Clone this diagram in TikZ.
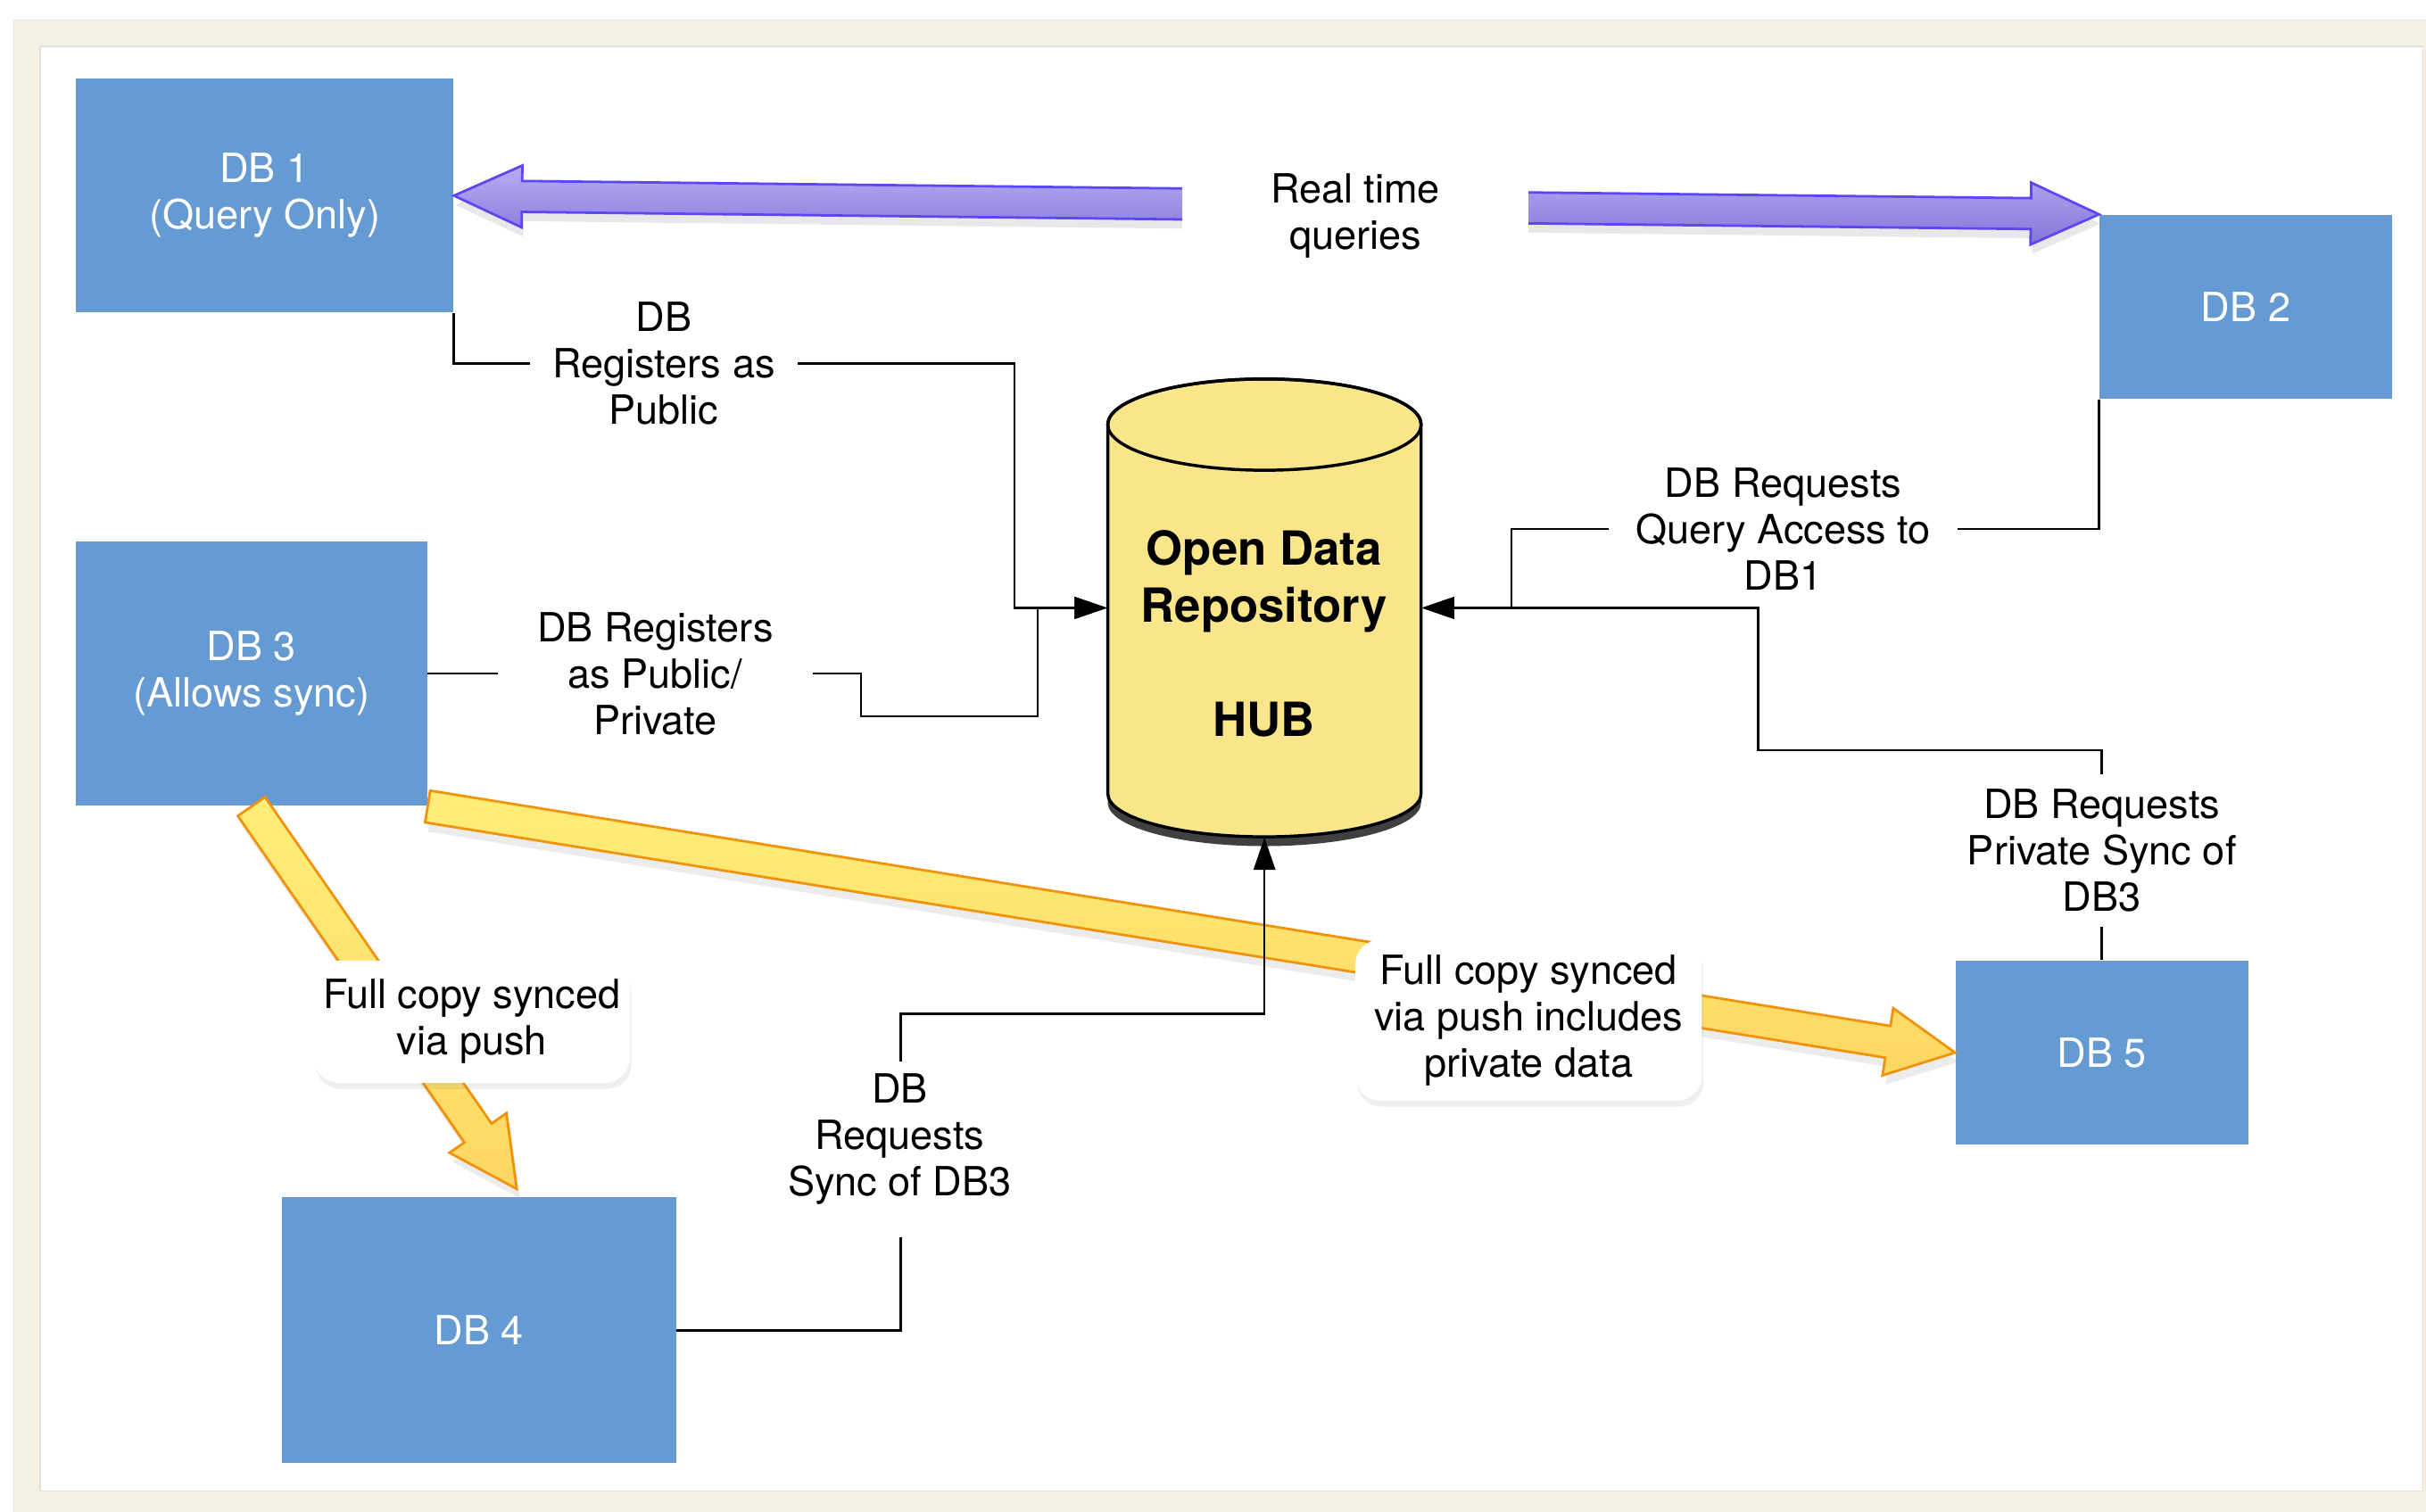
\documentclass[tikz,border=0pt]{standalone}
\usepackage{fontspec}
\setmainfont{TeX Gyre Heros}
\usetikzlibrary{calc,arrows.meta,shadows}
\definecolor{framebeige}{RGB}{244,241,227}
\definecolor{dbblue}{RGB}{102,154,211}
\definecolor{hubyellow}{RGB}{250,230,138}
\definecolor{purpletop}{RGB}{184,174,244}
\definecolor{purplebot}{RGB}{132,116,216}
\definecolor{purpleline}{RGB}{92,70,246}
\definecolor{yeltop}{RGB}{255,238,122}
\definecolor{yelbot}{RGB}{253,214,98}
\definecolor{yelline}{RGB}{240,146,10}
\newcommand\lblfont{\fontsize{13pt}{15pt}\selectfont}
\newcommand\hubfont{\fontsize{15.2pt}{18.5pt}\selectfont\bfseries}
\begin{document}
\begin{tikzpicture}[x=0.5pt,y=-0.5pt,
  dbbox/.style={fill=dbblue, text=white, align=center, inner sep=0pt, font=\lblfont},
  lbl/.style={align=center, inner sep=0pt, font=\lblfont},
  conn/.style={draw=black, line width=0.75pt},
  arr/.style={conn, -{Triangle[length=10.5pt,width=7pt]}},
  fatpurple/.style={top color=purpletop, bottom color=purplebot, draw=purpleline, line width=0.8pt,
     drop shadow={opacity=0.18, shadow xshift=0.5pt, shadow yshift=-3pt}},
  fatyellow/.style={top color=yeltop, bottom color=yelbot, draw=yelline, line width=0.8pt,
     drop shadow={opacity=0.15, shadow xshift=1pt, shadow yshift=-3pt}},
  whitebox/.style={fill=white, rounded corners=8pt, align=center, inner sep=0pt, font=\lblfont}
]
\useasboundingbox (0,0) rectangle (1568,977);
% frame
\fill[white] (0,0) rectangle (1568,977);
\fill[framebeige, draw=black!10, line width=0.4pt] (9,13) rectangle (1575,985);
\fill[white, draw=black!12, line width=0.4pt] (26,30) rectangle (1566,964);

% DB boxes
\node[dbbox, minimum width=122pt, minimum height=75.5pt] (db1) at (171,126.5) {DB 1\\(Query Only)};
\node[dbbox, minimum width=94.5pt, minimum height=59.5pt] (db2) at (1451.5,198.5) {DB 2};
\node[dbbox, minimum width=113.5pt, minimum height=85.5pt] (db3) at (162.5,435.5) {DB 3\\(Allows sync)};
\node[dbbox, minimum width=127.5pt, minimum height=86pt] (db4) at (309.5,860) {DB 4};
\node[dbbox, minimum width=94.5pt, minimum height=59.5pt] (db5) at (1358.5,680.5) {DB 5};

% hub cylinder
\node[minimum width=101.25pt, minimum height=148pt, inner sep=0pt] (hub) at (817.25,393) {};
\fill[black!75] (716,519) arc[start angle=180, end angle=0, x radius=101.25, y radius=28] -- (918.5,505) -- (716,505) -- cycle;
\filldraw[fill=hubyellow, draw=black, line width=1pt]
  (716,274.5) -- (716,513) arc[start angle=180, end angle=0, x radius=101.25, y radius=28]
  -- (918.5,274.5) arc[start angle=0, end angle=-180, x radius=101.25, y radius=29.5] -- cycle;
\draw[line width=1pt] (817.25,274.5) ellipse[x radius=101.25, y radius=29.5];
\node[font=\hubfont, align=center, inner sep=0pt] (hubtxt) at (817,409.5) {Open Data\\Repository\\[18.5pt]HUB};

% purple double arrow
\coordinate (qa) at (db1.east);
\coordinate (qb) at (db2.north west);
\coordinate (qha) at ($(qa)!22pt!(qb)$);
\coordinate (qhb) at ($(qb)!22pt!(qa)$);
\filldraw[fatpurple] (qa) -- ($(qha)!10pt!90:(qb)$) -- ($(qha)!5pt!90:(qb)$)
  -- ($(qhb)!5pt!-90:(qa)$) -- ($(qhb)!10pt!-90:(qa)$) -- (qb)
  -- ($(qhb)!10pt!90:(qa)$) -- ($(qhb)!5pt!90:(qa)$)
  -- ($(qha)!5pt!-90:(qb)$) -- ($(qha)!10pt!-90:(qb)$) -- cycle;
\node[lbl, fill=white, minimum width=112pt, minimum height=40pt] (rtq) at (876,139.5) {Real time\\queries};

% yellow arrow DB3 -> DB4
\coordinate (ya) at (db3.south);
\coordinate (yb) at ($(db4.north)+(24.5,-5)$);
\coordinate (yh) at ($(yb)!22pt!(ya)$);
\filldraw[fatyellow] ($(ya)!5.35pt!90:(yb)$) -- ($(yh)!5.35pt!-90:(ya)$) -- ($(yh)!11.2pt!-90:(ya)$)
  -- (yb) -- ($(yh)!11.2pt!90:(ya)$) -- ($(yh)!5.35pt!90:(ya)$) -- ($(ya)!5.35pt!-90:(yb)$) -- cycle;

% yellow arrow DB3 -> DB5
\coordinate (za) at (db3.south east);
\coordinate (zb) at (db5.west);
\coordinate (zh) at ($(zb)!22pt!(za)$);
\filldraw[fatyellow] ($(za)!5.2pt!90:(zb)$) -- ($(zh)!5.2pt!-90:(za)$) -- ($(zh)!11pt!-90:(za)$)
  -- (zb) -- ($(zh)!11pt!90:(za)$) -- ($(zh)!5.2pt!90:(za)$) -- ($(za)!5.2pt!-90:(zb)$) -- cycle;

\node[whitebox, minimum width=102pt, minimum height=39.5pt,
  drop shadow={opacity=0.12, shadow xshift=0.5pt, shadow yshift=-2pt}] (fc1) at (305,660.5) {Full copy synced\\via push};
\node[whitebox, minimum width=112pt, minimum height=52pt,
  drop shadow={opacity=0.12, shadow xshift=0.5pt, shadow yshift=-2pt}] (fc2) at (988,659.5) {Full copy synced\\via push includes\\private data};

% connector labels
\node[lbl, minimum width=86pt] (lab1) at (429,235) {DB\\Registers as\\Public};
\node[lbl, minimum width=101.5pt] (lab2) at (423.5,435.5) {DB Registers\\as Public/\\Private};
\node[lbl, minimum width=112.5pt] (lab3) at (1152.5,342) {DB Requests\\Query Access to\\DB1};
\node[lbl, minimum height=48.8pt] (lab4) at (1358.5,549.8) {DB Requests\\Private Sync of\\DB3};
\node[lbl] (lab5) at (581.5,736.5) {DB\\Requests\\Sync of DB3};

% connectors
\draw[conn] (db1.south east) |- (lab1.west);
\draw[arr] (lab1.east) -| ($(hub.west)+(-60,0)$) -- (hub.west);
\draw[conn] (db3.east) -- (lab2.west);
\draw[arr] (lab2.east) -- ++(31,0) |- ($(hub.west)+(-45,70)$) |- (hub.west);
\draw[conn] (db2.south west) |- (lab3.east);
\draw[arr] (lab3.west) -| ($(hub.east)+(58,0)$) -- (hub.east);
\draw[conn] (db5.north) -- (lab4.south);
\draw[arr] (lab4.north) |- ($(hub.east)+(217.5,92)$) |- (hub.east);
\draw[conn] (db4.east) -| ($(lab5.center)+(0.5,63.5)$);
\draw[arr] ($(lab5.center)+(0.5,-50.5)$) |- ($(hub.south)+(0,114)$) -- (hub.south);
\end{tikzpicture}
\end{document}
